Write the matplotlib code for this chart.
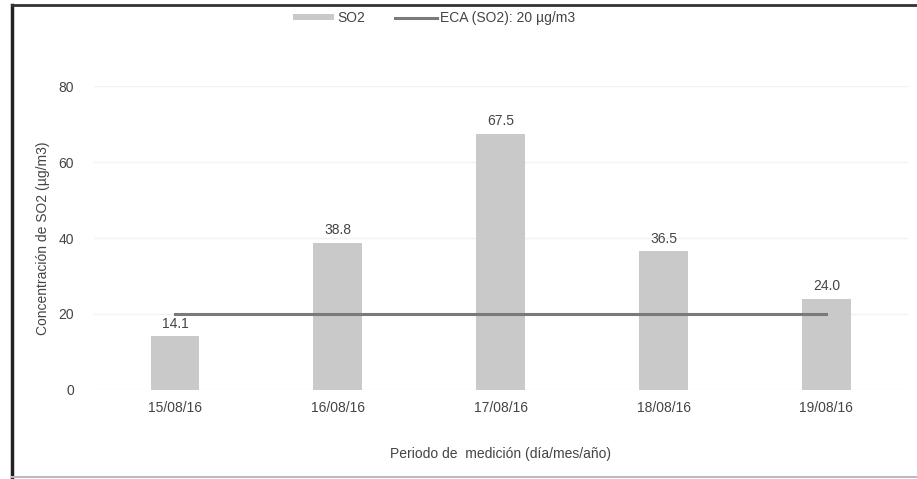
import matplotlib
matplotlib.use('Agg')
import matplotlib.pyplot as plt
from matplotlib.lines import Line2D
from matplotlib.patches import Patch
import numpy as np

fechas = ['15/08/16', '16/08/16', '17/08/16', '18/08/16', '19/08/16']
so2 = [14.1, 38.8, 67.5, 36.5, 24.0]
eca = [20, 20, 20, 20, 20]

plt.rcParams['font.family'] = ['Liberation Sans', 'DejaVu Sans']

fig = plt.figure(figsize=(9.17, 4.79), dpi=100)
ax = fig.add_axes([0.102, 0.186, 0.888, 0.634])

x = np.arange(len(fechas))
ax.bar(x, so2, width=0.3, color='#c9c9c9', zorder=2)
ax.plot(x, eca, color='#7a7a7a', linewidth=2.2, zorder=3)

for xi, v in zip(x, so2):
    ax.annotate(f'{v:.1f}', (xi, v), xytext=(0, 4), textcoords='offset points',
                ha='center', va='bottom', fontsize=10, color='#444444')

ax.set_xlim(-0.5, 4.5)
ax.set_ylim(0, 80)
ax.set_yticks([0, 20, 40, 60, 80])
ax.set_xticks(x)
ax.set_xticklabels(fechas)
ax.tick_params(axis='both', length=0, labelsize=10, labelcolor='#444444')
ax.tick_params(axis='x', pad=8)
ax.tick_params(axis='y', pad=14)
ax.grid(axis='y', color='#f2f2f2', linewidth=1, zorder=0)
for s in ax.spines.values():
    s.set_visible(False)

ax.set_xlabel('Periodo de  medición (día/mes/año)', fontsize=10, color='#444444', labelpad=23)
ax.set_ylabel('Concentración de SO2 (µg/m3)', fontsize=10, color='#444444', labelpad=6)

handles = [Patch(facecolor='#c9c9c9', label='SO2'),
           Line2D([0], [0], color='#7a7a7a', linewidth=2.2, label='ECA (SO2): 20 µg/m3')]
fig.legend(handles=handles, loc='center', bbox_to_anchor=(0.473, 0.962), ncol=2, frameon=False,
           fontsize=10, handlelength=3.0, handleheight=0.3, handletextpad=0.2, columnspacing=2.2,
           labelcolor='#444444')

# marco del recuadro escaneado
fig.add_artist(Line2D([0.013, 0.013], [0.0, 0.99], color='#222222', linewidth=2.5, transform=fig.transFigure))
fig.add_artist(Line2D([0.013, 1.0], [0.99, 0.99], color='#333333', linewidth=2, transform=fig.transFigure))
fig.add_artist(Line2D([0.013, 1.0], [0.004, 0.004], color='#bbbbbb', linewidth=1.5, transform=fig.transFigure))

fig.savefig('out.png', dpi=100)
